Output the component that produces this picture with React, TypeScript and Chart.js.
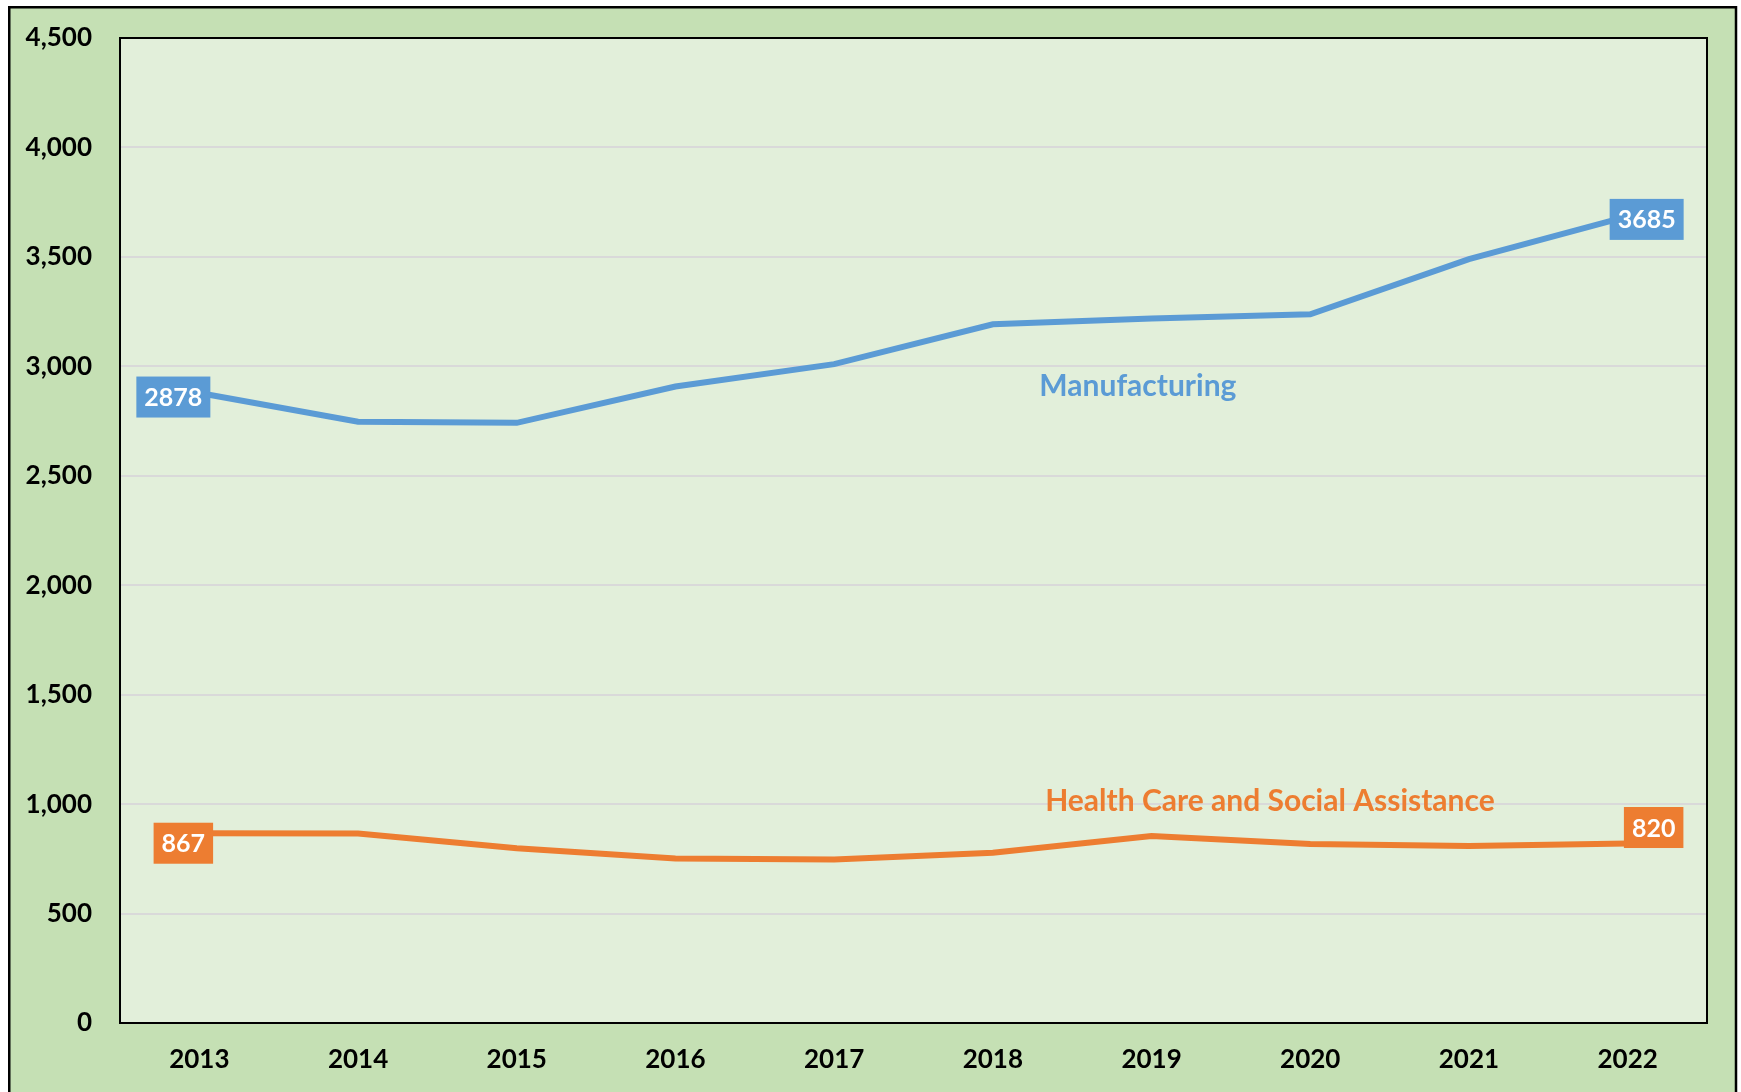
import React, { useEffect, useRef } from "react";
import { Chart, registerables } from "chart.js";

Chart.register(...registerables);

const years = ["2013", "2014", "2015", "2016", "2017", "2018", "2019", "2020", "2021", "2022"];
const manufacturing = [2878, 2747, 2742, 2908, 3010, 3192, 3218, 3238, 3490, 3685];
const healthCare = [867, 866, 798, 752, 747, 778, 854, 818, 809, 820];
const seriesNames = ["Manufacturing", "Health Care and Social Assistance"];
const yMin = 0;
const yMax = 4500;
const yStep = 500;

const BLUE = "#5B9BD5";
const ORANGE = "#ED7D31";
const FONT = "Lato, 'Open Sans', sans-serif";

// Positions of the series name annotations in data coordinates (x = category index, y = value)
const seriesNamePos = [
  { x: 5.914, y: 2910 },
  { x: 6.746, y: 1011 },
];

// Which points get a value box, and the box offset from the point (px)
const valueLabels = [
  [
    { index: 0, dx: -26, dy: 4 },
    { index: 9, dx: 19, dy: 3 },
  ],
  [
    { index: 0, dx: -16, dy: 10 },
    { index: 9, dx: 26, dy: -16 },
  ],
];

const framePlugin = {
  id: "frame",
  beforeDraw(chart: any) {
    const { ctx, chartArea } = chart;
    ctx.save();
    ctx.fillStyle = "#C5E0B4";
    ctx.fillRect(9, 7, 1727, 1100);
    ctx.strokeStyle = "#000";
    ctx.lineWidth = 2.5;
    ctx.beginPath();
    ctx.moveTo(9.25, 1100);
    ctx.lineTo(9.25, 7.25);
    ctx.lineTo(1736, 7.25);
    ctx.lineTo(1736, 1100);
    ctx.stroke();
    ctx.fillStyle = "#E2EFDA";
    ctx.fillRect(chartArea.left, chartArea.top, chartArea.right - chartArea.left, chartArea.bottom - chartArea.top);
    ctx.restore();
  },
  afterDraw(chart: any) {
    const { ctx, chartArea } = chart;
    ctx.save();
    ctx.strokeStyle = "#000";
    ctx.lineWidth = 2;
    ctx.strokeRect(chartArea.left, chartArea.top, chartArea.right - chartArea.left, chartArea.bottom - chartArea.top);
    ctx.restore();
  },
};

const labelsPlugin = {
  id: "valueLabels",
  afterDatasetsDraw(chart: any) {
    const { ctx } = chart;
    const xs = chart.scales.x;
    const ys = chart.scales.y;
    ctx.save();
    // series names
    ctx.font = `bold 30px ${FONT}`;
    ctx.textAlign = "center";
    ctx.textBaseline = "middle";
    chart.data.datasets.forEach((ds: any, i: number) => {
      const p = seriesNamePos[i];
      ctx.fillStyle = ds.borderColor;
      ctx.fillText(seriesNames[i], xs.getPixelForValue(p.x), ys.getPixelForValue(p.y));
    });
    // value boxes
    ctx.font = `bold 25px ${FONT}`;
    chart.data.datasets.forEach((ds: any, i: number) => {
      const meta = chart.getDatasetMeta(i);
      valueLabels[i].forEach((l) => {
        const pt = meta.data[l.index];
        const text = String(ds.data[l.index]);
        const w = ctx.measureText(text).width + 16;
        const h = 41;
        const cx = pt.x + l.dx;
        const cy = pt.y + l.dy;
        ctx.fillStyle = ds.borderColor;
        ctx.fillRect(cx - w / 2, cy - h / 2, w, h);
        ctx.fillStyle = "#FFFFFF";
        ctx.fillText(text, cx, cy + 1);
      });
    });
    ctx.restore();
  },
};

export default function App() {
  const ref = useRef<HTMLCanvasElement | null>(null);
  useEffect(() => {
    if (!ref.current) return;
    const chart = new Chart(ref.current, {
      type: "line",
      data: {
        labels: years,
        datasets: [
          {
            label: seriesNames[0],
            data: manufacturing,
            borderColor: BLUE,
            backgroundColor: BLUE,
            borderWidth: 6,
            pointRadius: 0,
            tension: 0,
          },
          {
            label: seriesNames[1],
            data: healthCare,
            borderColor: ORANGE,
            backgroundColor: ORANGE,
            borderWidth: 6,
            pointRadius: 0,
            tension: 0,
          },
        ],
      },
      options: {
        responsive: false,
        animation: false,
        devicePixelRatio: 1,
        layout: { padding: { left: 10, top: 38, right: 34, bottom: 0 } },
        plugins: {
          legend: { display: false },
          tooltip: { enabled: false },
          title: { display: false },
        },
        scales: {
          x: {
            offset: true,
            grid: { display: false, drawTicks: false },
            border: { display: false },
            ticks: {
              color: "#000",
              font: { family: FONT, size: 26, weight: "bold" },
              padding: 21,
              maxRotation: 0,
            },
            afterFit: (s: any) => {
              s.height = 69;
              s.paddingLeft = 0;
              s.paddingRight = 0;
            },
          },
          y: {
            min: yMin,
            max: yMax,
            grid: { color: "#D9D9D9", lineWidth: 2, drawTicks: false },
            border: { display: false },
            ticks: {
              stepSize: yStep,
              color: "#000",
              font: { family: FONT, size: 26, weight: "bold" },
              padding: 28,
              callback: (v: any) => Number(v).toLocaleString("en-US"),
            },
            afterFit: (s: any) => {
              s.width = 110;
              s.paddingTop = 0;
              s.paddingBottom = 0;
            },
          },
        },
      },
      plugins: [framePlugin, labelsPlugin],
    });
    return () => chart.destroy();
  }, []);
  return (
    <div style={{ position: "fixed", left: 0, top: 0, width: 1741, height: 1092 }}>
      <canvas ref={ref} width={1741} height={1092} style={{ display: "block" }} />
    </div>
  );
}
